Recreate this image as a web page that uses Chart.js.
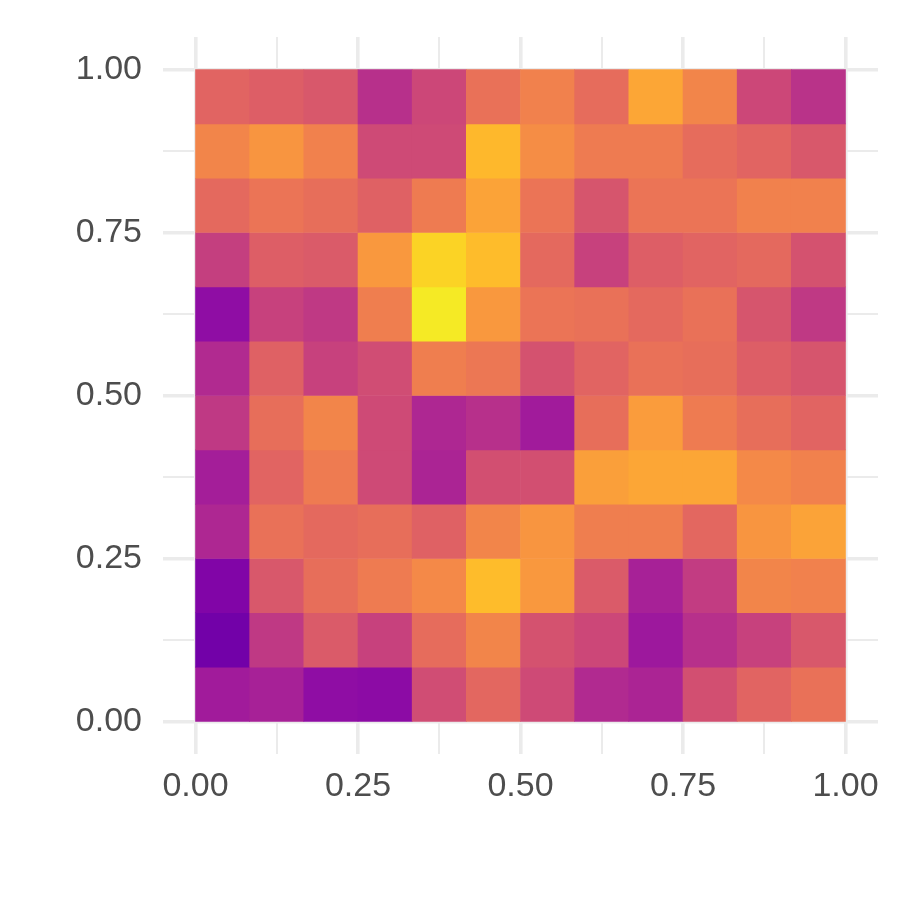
<!DOCTYPE html>
<html>
<head>
<meta charset="utf-8">
<script src="https://cdn.jsdelivr.net/npm/chart.js@4/dist/chart.umd.min.js"></script>
<style>
  html, body { margin: 0; padding: 0; background: #ffffff; }
  #c { display: block; }
</style>
</head>
<body>
<canvas id="c" width="897" height="897"></canvas>
<script>
// ---- data ----
const xCenters = [0.0417, 0.125, 0.2083, 0.2917, 0.375, 0.4583, 0.5417, 0.625, 0.7083, 0.7917, 0.875, 0.9583];
const yCenters = [0.0417, 0.125, 0.2083, 0.2917, 0.375, 0.4583, 0.5417, 0.625, 0.7083, 0.7917, 0.875, 0.9583];
const cellSize = 1 / 12;

// fill values (plasma scale position), rows from bottom (y = 0) to top
const row00 = [0.35, 0.37, 0.30, 0.29, 0.52, 0.61, 0.51, 0.40, 0.38, 0.53, 0.60, 0.65];
const row01 = [0.22, 0.45, 0.57, 0.48, 0.63, 0.71, 0.54, 0.50, 0.34, 0.42, 0.48, 0.56];
const row02 = [0.26, 0.56, 0.64, 0.68, 0.72, 0.86, 0.76, 0.57, 0.37, 0.46, 0.71, 0.70];
const row03 = [0.39, 0.65, 0.62, 0.64, 0.59, 0.71, 0.75, 0.69, 0.69, 0.61, 0.75, 0.79];
const row04 = [0.36, 0.60, 0.68, 0.51, 0.38, 0.53, 0.53, 0.78, 0.80, 0.80, 0.72, 0.70];
const row05 = [0.45, 0.64, 0.71, 0.51, 0.39, 0.42, 0.35, 0.64, 0.77, 0.68, 0.64, 0.60];
const row06 = [0.40, 0.59, 0.48, 0.52, 0.69, 0.67, 0.54, 0.60, 0.65, 0.64, 0.58, 0.55];
const row07 = [0.30, 0.48, 0.45, 0.69, 0.96, 0.76, 0.66, 0.65, 0.62, 0.65, 0.55, 0.45];
const row08 = [0.47, 0.58, 0.57, 0.76, 0.91, 0.86, 0.62, 0.48, 0.58, 0.60, 0.62, 0.54];
const row09 = [0.62, 0.66, 0.64, 0.59, 0.68, 0.79, 0.66, 0.55, 0.66, 0.66, 0.70, 0.70];
const row10 = [0.71, 0.75, 0.70, 0.51, 0.51, 0.85, 0.73, 0.68, 0.68, 0.63, 0.60, 0.56];
const row11 = [0.60, 0.58, 0.56, 0.42, 0.50, 0.65, 0.70, 0.63, 0.80, 0.71, 0.50, 0.43];
const rows = [row00, row01, row02, row03, row04, row05, row06, row07, row08, row09, row10, row11];

const tickValues = [0, 0.125, 0.25, 0.375, 0.5, 0.625, 0.75, 0.875, 1];
const majorTicks = [0, 0.25, 0.5, 0.75, 1];

// ---- plasma colour map ----
const plasmaStops = ['#0d0887','#2a0593','#41049d','#5402a3','#6a00a8','#7e03a8','#8f0da4','#a11b9b',
  '#b12a90','#bf3984','#cc4778','#d6556d','#e16462','#e97158','#f1814d','#f89540','#fca636',
  '#feb82c','#fcce25','#f6e626','#f0f921'];
function hexToRgb(h){ return [parseInt(h.slice(1,3),16), parseInt(h.slice(3,5),16), parseInt(h.slice(5,7),16)]; }
function plasma(t){
  t = Math.max(0, Math.min(1, t));
  const p = t * (plasmaStops.length - 1);
  const i = Math.min(Math.floor(p), plasmaStops.length - 2);
  const f = p - i;
  const a = hexToRgb(plasmaStops[i]), b = hexToRgb(plasmaStops[i+1]);
  const c = a.map((v, k) => Math.round(v + (b[k] - v) * f));
  return 'rgb(' + c.join(',') + ')';
}

// ---- build cells ----
const cells = [];
const colors = [];
rows.forEach((row, r) => {
  row.forEach((v, c) => {
    cells.push({ x: xCenters[c], y: [yCenters[r] - cellSize / 2, yCenters[r] + cellSize / 2] });
    colors.push(plasma(v));
  });
});

const tickFont = { family: '"Liberation Sans", Arial, sans-serif', size: 34 };
const gridColor = '#ebebeb';
function gridWidth(ctx){
  const v = ctx.tick ? ctx.tick.value : null;
  return majorTicks.some(m => Math.abs(m - v) < 1e-9) ? 3.6 : 2;
}
function setTicks(scale){ scale.ticks = tickValues.map(v => ({ value: v })); }
function labelFor(value){
  return majorTicks.some(m => Math.abs(m - value) < 1e-9) ? Number(value).toFixed(2) : '';
}

new Chart(document.getElementById('c'), {
  type: 'bar',
  data: {
    datasets: [{
      data: cells,
      backgroundColor: colors,
      borderWidth: 0,
      barPercentage: 1,
      categoryPercentage: 1
    }]
  },
  options: {
    responsive: false,
    animation: false,
    layout: { padding: { left: 0, top: 37, right: 19, bottom: 0 } },
    plugins: { legend: { display: false }, tooltip: { enabled: false } },
    scales: {
      x: {
        type: 'linear',
        min: -0.05, max: 1.05,
        offset: false,
        afterBuildTicks: setTicks,
        afterFit: s => { s.height = 143; s.paddingLeft = 0; s.paddingRight = 0; },
        border: { display: false },
        grid: { offset: false, color: gridColor, lineWidth: gridWidth, drawTicks: false },
        ticks: { autoSkip: false, maxRotation: 0, padding: 12, color: '#4d4d4d', font: tickFont,
                 callback: v => labelFor(v) }
      },
      y: {
        type: 'linear',
        min: -0.05, max: 1.05,
        afterBuildTicks: setTicks,
        afterFit: s => { s.width = 163; s.paddingTop = 0; s.paddingBottom = 0; },
        border: { display: false },
        grid: { color: gridColor, lineWidth: gridWidth, drawTicks: false },
        ticks: { autoSkip: false, padding: 21, color: '#4d4d4d', font: tickFont,
                 callback: v => labelFor(v) }
      }
    }
  }
});
</script>
</body>
</html>
